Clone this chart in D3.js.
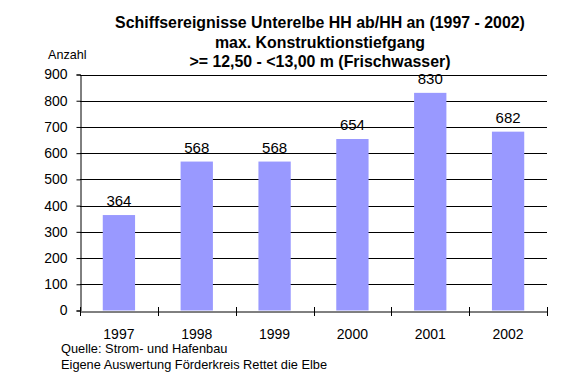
<!DOCTYPE html>
<html><head><meta charset="utf-8">
<script src="https://cdnjs.cloudflare.com/ajax/libs/d3/7.8.5/d3.min.js"></script>
<style>
html,body{margin:0;padding:0;background:#fff;}
svg{display:block;font-family:Arial,"Liberation Sans",sans-serif;}
</style></head>
<body>
<svg id="c" width="587" height="386"></svg>
<script>
const years = ["1997","1998","1999","2000","2001","2002"];
const values = [364, 568, 568, 654, 830, 682];
const yTicks = [0,100,200,300,400,500,600,700,800,900];
const titleLines = ["Schiffsereignisse Unterelbe HH ab/HH an (1997 - 2002)", "max. Konstruktionstiefgang", ">= 12,50 - <13,00 m (Frischwasser)"];
const footLines = ["Quelle: Strom- und Hafenbau", "Eigene Auswertung Förderkreis Rettet die Elbe"];
const yLabel = "Anzahl";

const svg = d3.select("#c");
const L = 80, R = 547, T = 74.5, B = 310.5;
const x = d3.scaleBand().domain(years).range([L, R]).padding(0);
const y = d3.scaleLinear().domain([0, 900]).range([B, T]);

// gridlines
svg.append("g").selectAll("line").data(yTicks.filter(d => d > 0)).join("line")
  .attr("x1", L).attr("x2", R).attr("y1", d => Math.round(y(d)) + 0.5).attr("y2", d => Math.round(y(d)) + 0.5)
  .attr("stroke", "#000").attr("stroke-width", 1);

// bars
const bw = x.bandwidth() * 0.415;
svg.append("g").selectAll("rect").data(values).join("rect")
  .attr("x", (d, i) => x(years[i]) + (x.bandwidth() - bw) / 2)
  .attr("width", bw)
  .attr("y", d => y(d))
  .attr("height", d => B - y(d))
  .attr("fill", "#9999ff");

// value labels
svg.append("g").selectAll("text").data(values).join("text")
  .attr("x", (d, i) => x(years[i]) + x.bandwidth() / 2)
  .attr("y", d => y(d) - 9)
  .attr("text-anchor", "middle")
  .attr("font-size", 15).attr("fill", "#000")
  .text(d => d);

// y axis
const yAxis = svg.append("g").attr("transform", `translate(${L + 0.5},0)`)
  .call(d3.axisLeft(y).tickValues(yTicks).tickSize(4).tickPadding(9).tickFormat(d3.format("d")));
yAxis.select(".domain").attr("stroke", "#000");
yAxis.selectAll("text").attr("font-size", 14).attr("font-family", "Arial,'Liberation Sans',sans-serif").attr("fill", "#000");
yAxis.selectAll(".tick line").attr("stroke", "#000");

// x axis
const xAxis = svg.append("g").attr("transform", `translate(0,${Math.round(B) + 0.5})`)
  .call(d3.axisBottom(x).tickSize(0).tickPadding(18));
xAxis.select(".domain").attr("stroke", "#000");
xAxis.selectAll("text").attr("font-size", 14).attr("font-family", "Arial,'Liberation Sans',sans-serif").attr("fill", "#000");
// category boundary ticks
const bounds = years.map(d => x(d)).concat([R]);
svg.append("g").selectAll("line").data(bounds).join("line")
  .attr("x1", d => Math.round(d) + 0.5).attr("x2", d => Math.round(d) + 0.5)
  .attr("y1", Math.round(B) - 4).attr("y2", Math.round(B) + 5)
  .attr("stroke", "#000");

// title
svg.append("g").selectAll("text").data(titleLines).join("text")
  .attr("x", 320).attr("y", (d, i) => 28 + i * 19.5)
  .attr("text-anchor", "middle").attr("font-size", 15.9).attr("font-weight", "bold").attr("fill", "#000")
  .text(d => d);

// y label
svg.append("text").attr("x", 48).attr("y", 59).attr("font-size", 12.6).attr("fill", "#000").text(yLabel);

// footer
svg.append("g").selectAll("text").data(footLines).join("text")
  .attr("x", 61).attr("y", (d, i) => 353 + i * 16)
  .attr("font-size", 12.8).attr("fill", "#000")
  .text(d => d);
</script>
</body></html>
